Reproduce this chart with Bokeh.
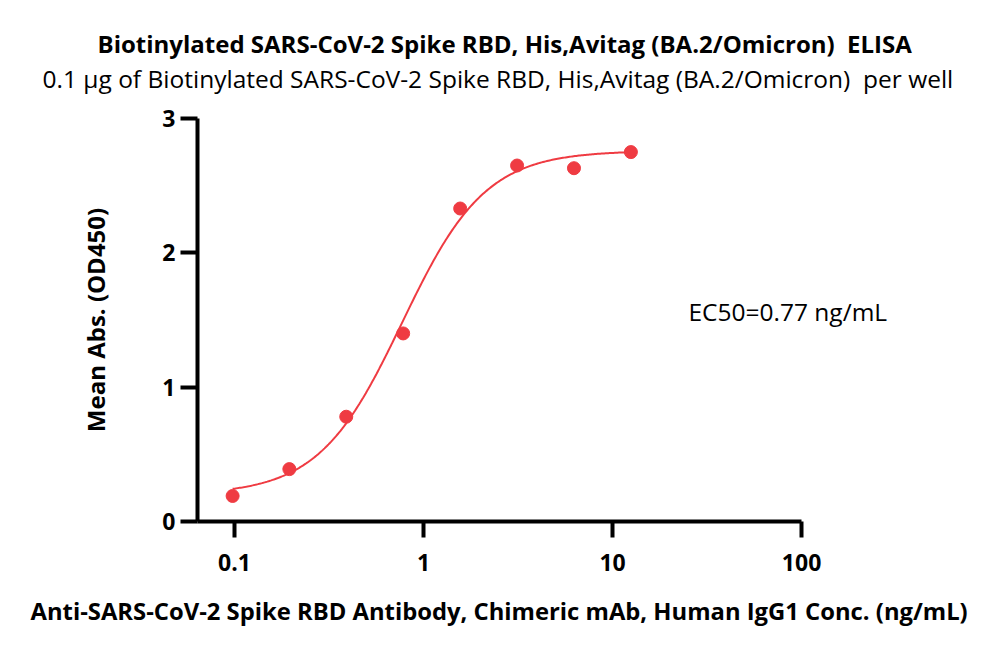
import numpy as np
from bokeh.plotting import figure
from bokeh.models import Range1d, FixedTicker, Title, Label, CustomJSTickFormatter
from bokeh.embed import file_html
from bokeh.resources import INLINE

# ---- data ----
conc = [0.0977, 0.195, 0.39, 0.78, 1.5625, 3.125, 6.25, 12.5]
od450 = [0.19, 0.39, 0.78, 1.40, 2.33, 2.65, 2.63, 2.75]
# 4-parameter logistic fit parameters (estimated)
fit_bottom = 0.20
fit_top = 2.76
fit_ec50 = 0.77
fit_hill = 1.97
x_ticks = [0.1, 1, 10, 100]
y_ticks = [0, 1, 2, 3]

NB = "\u00a0"
title_text = "Biotinylated SARS-CoV-2 Spike RBD, His,Avitag (BA.2/Omicron) " + NB + "ELISA"
subtitle_text = "0.1 \u00b5g of Biotinylated SARS-CoV-2 Spike RBD, His,Avitag (BA.2/Omicron) " + NB + "per well"
x_label = "Anti-SARS-CoV-2 Spike RBD Antibody, Chimeric mAb, Human IgG1 Conc. (ng/mL)"
y_label = "Mean Abs. (OD450)"
ec50_text = "EC50=0.77 ng/mL"

RED = "#EF3B42"
FONT = "Open Sans"

p = figure(width=992, height=650, x_axis_type="log",
           x_range=Range1d(0.0637, 693), y_range=Range1d(0, 3.0),
           output_backend="svg", toolbar_location=None,
           min_border_left=197, min_border_right=32,
           min_border_top=118, min_border_bottom=129)
p.outline_line_color = None
p.grid.visible = False
p.background_fill_color = "white"
p.border_fill_color = "white"

# fitted curve
xc = np.logspace(np.log10(conc[0]), np.log10(conc[-1]), 300)
yc = fit_bottom + (fit_top - fit_bottom) / (1 + (fit_ec50 / xc) ** fit_hill)
p.line(xc, yc, line_color=RED, line_width=2)
p.scatter(conc, od450, size=13, fill_color=RED, line_color=RED)

for ax in (p.xaxis[0], p.yaxis[0]):
    ax.axis_line_width = 4
    ax.major_tick_line_width = 4
    ax.minor_tick_line_color = None
    ax.major_tick_in = 0
    ax.major_label_text_font = FONT
    ax.major_label_text_font_style = "bold"
    ax.major_label_text_font_size = "23px"
    ax.major_label_text_color = "black"
    ax.axis_label_text_font = FONT
    ax.axis_label_text_font_style = "bold"
    ax.axis_label_text_color = "black"

xa = p.xaxis[0]
xa.bounds = (0.0637, 100)
xa.ticker = FixedTicker(ticks=x_ticks, minor_ticks=[])
xa.formatter = CustomJSTickFormatter(code="""
const labs = {0.1: "0.1", 1: "1", 10: "10", 100: "100"};
return labs[tick] !== undefined ? labs[tick] : tick.toString();
""")
xa.major_tick_out = 16
xa.major_label_standoff = 16

ya = p.yaxis[0]
ya.ticker = FixedTicker(ticks=y_ticks, minor_ticks=[])
ya.major_tick_out = 17
ya.major_label_standoff = 5
ya.axis_label = y_label
ya.axis_label_text_font_size = "24px"
ya.axis_label_standoff = 47

# x-axis label as a left-aligned title below (frame is wider than the axis)
p.add_layout(Title(text=x_label, align="left", offset=-167, text_font=FONT,
                   text_font_size="23.8px", text_font_style="bold",
                   text_color="black", standoff=38), "below")

# spacer between frame and subtitle
p.add_layout(Title(text=NB, align="left", text_font=FONT,
                   text_font_size="2px", text_color="white", standoff=19), "above")
p.add_layout(Title(text=subtitle_text, align="left", offset=-155, text_font=FONT,
                   text_font_size="24.5px", text_font_style="normal",
                   text_color="black", standoff=0), "above")
p.add_layout(Title(text=title_text, align="left", offset=-100, text_font=FONT,
                   text_font_size="24px", text_font_style="bold",
                   text_color="black", standoff=0), "above")

p.add_layout(Label(x=25.2, y=1.56, text=ec50_text, text_font=FONT,
                   text_font_size="24.5px", text_color="black",
                   text_baseline="middle", text_align="left"))

open("out.html", "w").write(file_html(p, INLINE))
